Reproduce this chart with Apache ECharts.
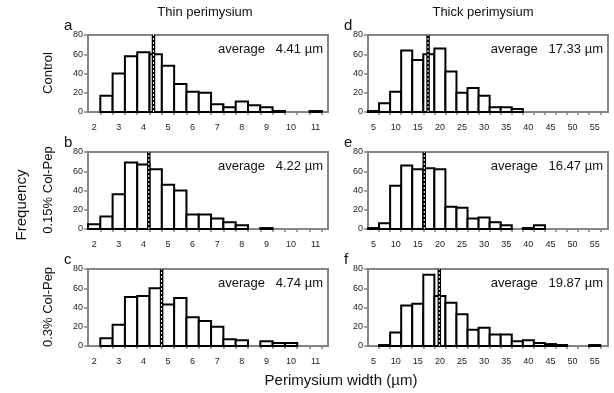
<!DOCTYPE html>
<html>
<head>
<meta charset="utf-8">
<script src="https://cdn.jsdelivr.net/npm/echarts@6/dist/echarts.min.js"></script>
<style>
  html, body { margin: 0; padding: 0; background: #fff; }
  #chart { width: 614px; height: 393px; }
</style>
</head>
<body>
<div id="chart"></div>
<script>
// bin centres (µm)
const thinCenters = [2, 2.5, 3, 3.5, 4, 4.5, 5, 5.5, 6, 6.5, 7, 7.5, 8, 8.5, 9, 9.5, 10, 10.5, 11]
const thickCenters = [5, 7.5, 10, 12.5, 15, 17.5, 20, 22.5, 25, 27.5, 30, 32.5, 35, 37.5, 40, 42.5, 45, 47.5, 50, 52.5, 55]

// tick marks sit on the bin edges, labels on the bin centres
const thinTicks = [2.25, 2.75, 3.25, 3.75, 4.25, 4.75, 5.25, 5.75, 6.25, 6.75, 7.25, 7.75, 8.25, 8.75, 9.25, 9.75, 10.25, 10.75, 11.25]
const thinLabels = [2, 3, 4, 5, 6, 7, 8, 9, 10, 11]
const thickTicks = [6.25, 8.75, 11.25, 13.75, 16.25, 18.75, 21.25, 23.75, 26.25, 28.75, 31.25, 33.75, 36.25, 38.75, 41.25, 43.75, 46.25, 48.75, 51.25, 53.75, 56.25]
const thickLabels = [5, 10, 15, 20, 25, 30, 35, 40, 45, 50, 55]

// frequencies
const countsA = [0, 17, 40, 58, 62, 60, 48, 29, 21, 20, 8, 5, 11, 7, 5, 1, 0, 0, 1]
const countsB = [5, 13, 36, 69, 67, 62, 46, 40, 15, 15, 11, 7, 4, 0, 1, 0, 0, 0, 0]
const countsC = [0, 8, 22, 51, 52, 60, 43, 50, 30, 26, 20, 7, 6, 0, 5, 3, 3, 0, 0]
const countsD = [1, 9, 21, 64, 54, 60, 66, 42, 20, 25, 17, 5, 5, 3, 0, 0, 0, 0, 0, 0, 0]
const countsE = [1, 6, 45, 66, 62, 63, 62, 23, 22, 11, 12, 7, 4, 0, 1, 4, 0, 0, 0, 0, 0]
const countsF = [0, 1, 14, 42, 44, 74, 52, 45, 33, 17, 19, 12, 12, 5, 6, 3, 2, 1, 0, 0, 1]

const averages = [4.41, 4.22, 4.74, 17.33, 16.47, 19.87]
const panelLetters = ['a', 'b', 'c', 'd', 'e', 'f']
const rowNames = ['Control', '0.15% Col-Pep', '0.3% Col-Pep']

const FONT = 'Liberation Sans, Arial, sans-serif'
const GREY = '#858585'

const panels = [
  { counts: countsA, centers: thinCenters, width: 0.5, kind: 'thin' },
  { counts: countsB, centers: thinCenters, width: 0.5, kind: 'thin' },
  { counts: countsC, centers: thinCenters, width: 0.5, kind: 'thin' },
  { counts: countsD, centers: thickCenters, width: 2.5, kind: 'thick' },
  { counts: countsE, centers: thickCenters, width: 2.5, kind: 'thick' },
  { counts: countsF, centers: thickCenters, width: 2.5, kind: 'thick' }
]

const tops = [35, 152, 269]
const grid = [], xAxis = [], yAxis = [], series = [], graphic = []

panels.forEach((p, i) => {
  const col = i < 3 ? 0 : 1
  const row = i % 3
  const left = col === 0 ? 88 : 368
  const top = tops[row]
  grid.push({
    left, top, width: 240, height: 77,
    show: true, borderColor: GREY, borderWidth: 2, backgroundColor: 'transparent'
  })
  const thin = p.kind === 'thin'
  xAxis.push({
    gridIndex: i, type: 'value',
    min: thin ? 1.75 : 3.75,
    max: thin ? 11.5 : 58,
    axisLine: { show: true, onZero: false, lineStyle: { color: GREY, width: 2 } },
    axisTick: {
      show: true, length: 3, customValues: thin ? thinTicks : thickTicks,
      lineStyle: { color: GREY, width: 1.5 }
    },
    axisLabel: {
      customValues: thin ? thinLabels : thickLabels,
      fontSize: 9, color: '#222', fontFamily: FONT, margin: 11
    },
    splitLine: { show: false }
  })
  yAxis.push({
    gridIndex: i, type: 'value', min: 0, max: 80, interval: 20,
    axisLine: { show: true, lineStyle: { color: GREY, width: 2 } },
    axisTick: { show: true, length: 4, lineStyle: { color: GREY, width: 1.5 } },
    axisLabel: { fontSize: 9, color: '#222', fontFamily: FONT, margin: 5 },
    splitLine: { show: false }
  })
  series.push({
    type: 'custom',
    xAxisIndex: i, yAxisIndex: i,
    data: p.centers.map((c, k) => [c, p.counts[k]]),
    renderItem: (params, api) => {
      const c = api.value(0), v = api.value(1)
      if (!v) return null
      const a = api.coord([c - p.width / 2, v])
      const b = api.coord([c + p.width / 2, 0])
      return {
        type: 'rect',
        shape: { x: a[0], y: a[1], width: b[0] - a[0], height: b[1] - a[1] },
        style: { fill: '#fff', stroke: '#000', lineWidth: 2 }
      }
    },
    silent: true, z: 2
  })
  const avg = averages[i]
  series.push({
    type: 'line', xAxisIndex: i, yAxisIndex: i,
    data: [[avg, 0], [avg, 80]], symbol: 'none', silent: true, z: 3,
    lineStyle: { color: '#000', width: 3.5 }
  })
  series.push({
    type: 'line', xAxisIndex: i, yAxisIndex: i,
    data: [[avg, 0], [avg, 80]], symbol: 'none', silent: true, z: 4,
    lineStyle: { color: '#fff', width: 1, type: [2, 2] }
  })
  graphic.push({
    type: 'text', x: left + 235, y: top + 14, z: 10,
    style: {
      text: 'average   ' + avg.toFixed(2) + ' µm',
      font: '13px ' + FONT, fill: '#111', textAlign: 'right', textVerticalAlign: 'middle'
    }
  })
  graphic.push({
    type: 'text', x: left - 24, y: top - 17, z: 10,
    style: { text: panelLetters[i], font: '15px ' + FONT, fill: '#111' }
  })
})

graphic.push({ type: 'text', x: 205, y: 12, style: { text: 'Thin perimysium', font: '13px ' + FONT, fill: '#111', textAlign: 'center', textVerticalAlign: 'middle' } })
graphic.push({ type: 'text', x: 483, y: 12, style: { text: 'Thick perimysium', font: '13px ' + FONT, fill: '#111', textAlign: 'center', textVerticalAlign: 'middle' } })
graphic.push({ type: 'text', x: 341, y: 381, style: { text: 'Perimysium width (µm)', font: '15px ' + FONT, fill: '#111', textAlign: 'center', textVerticalAlign: 'middle' } })
graphic.push({ type: 'text', x: 22, y: 205, rotation: Math.PI / 2, style: { text: 'Frequency', font: '15px ' + FONT, fill: '#111', textAlign: 'center', textVerticalAlign: 'middle' } })
rowNames.forEach((name, r) => {
  graphic.push({ type: 'text', x: 48, y: tops[r] + 38, rotation: Math.PI / 2, style: { text: name, font: '13px ' + FONT, fill: '#111', textAlign: 'center', textVerticalAlign: 'middle' } })
})

const chart = echarts.init(document.getElementById('chart'), null, { renderer: 'canvas' })
chart.setOption({
  animation: false,
  backgroundColor: '#fff',
  grid, xAxis, yAxis, series, graphic
})
</script>
</body>
</html>
